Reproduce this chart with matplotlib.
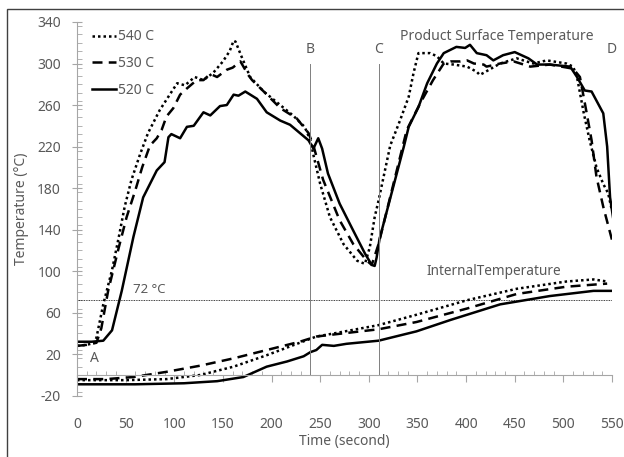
import matplotlib.pyplot as plt
from matplotlib.patches import Rectangle
from matplotlib.ticker import MultipleLocator

plt.rcParams['font.family'] = ['Noto Sans', 'DejaVu Sans']
plt.rcParams['axes.unicode_minus'] = False

# surface temperature, 540 C oven (dotted)
t_s540 = [0, 10, 18, 20, 27, 36, 43, 49, 56, 65, 73, 85, 96, 103, 111, 121, 130, 140, 150,
          157, 161, 163, 169, 178, 192, 205, 222, 234, 240, 243, 250, 260, 274, 288, 296,
          301, 306, 310, 322, 332, 341, 346, 351, 363, 370, 377, 387, 401, 411, 414, 418,
          435, 452, 469, 483, 503, 510, 514, 521, 527, 534, 541, 546, 550]
v_s540 = [28, 29, 31, 36, 68, 101, 133, 162, 188, 213, 233, 255, 271, 281, 279, 287, 284, 291, 302,
          312, 322, 321, 307, 287, 273, 263, 250, 239, 226, 212, 184, 152, 126, 110, 107,
          123, 152, 168, 221, 245, 268, 291, 310, 310, 307, 300, 299, 297, 292, 289, 291,
          300, 305, 300, 303, 300, 297, 287, 252, 226, 200, 184, 175, 158]

# surface temperature, 530 C oven (dashed)
t_s530 = [0, 10, 20, 25, 32, 43, 51, 60, 67, 75, 82, 87, 92, 99, 106, 113, 123, 130, 137,
          144, 154, 160, 168, 176, 180, 192, 209, 226, 238, 243, 253, 270, 284, 298, 303,
          310, 339, 353, 366, 377, 384, 394, 401, 408, 418, 421, 435, 449, 466, 486, 510,
          517, 524, 529, 534, 541, 550]
v_s530 = [28, 29, 31, 45, 81, 123, 152, 178, 200, 221, 228, 236, 249, 257, 270, 276, 284, 284, 290,
          287, 294, 296, 302, 289, 284, 273, 257, 247, 233, 221, 188, 149, 126, 110, 106,
          126, 236, 262, 284, 300, 302, 302, 303, 300, 299, 297, 300, 302, 297, 299, 295,
          287, 252, 226, 191, 162, 130]

# surface temperature, 520 C oven (solid)
t_s520 = [0, 15, 27, 36, 46, 58, 68, 82, 90, 94, 97, 106, 113, 120, 130, 137, 147, 154, 161,
          166, 173, 185, 195, 209, 219, 238, 243, 248, 252, 258, 270, 284, 296, 303, 306,
          308, 311, 336, 341, 351, 360, 370, 377, 390, 399, 404, 411, 421, 428, 438, 450,
          464, 473, 486, 507, 514, 522, 529, 541, 545, 548, 551]
v_s520 = [32, 32, 33, 43, 81, 133, 171, 197, 205, 229, 232, 228, 239, 240, 253, 250, 259, 260, 270,
          269, 273, 266, 253, 245, 241, 226, 218, 228, 218, 194, 165, 139, 117, 106, 105,
          113, 131, 220, 239, 258, 281, 300, 310, 316, 315, 318, 310, 308, 303, 308, 311,
          305, 299, 299, 297, 287, 274, 273, 252, 220, 171, 152]

# internal temperature
t_i540 = [0, 50, 92, 127, 161, 195, 229, 246, 264, 310, 349, 401, 452, 503, 531, 545]
v_i540 = [-5, -5, -4, 0, 8, 19, 31, 37, 40, 48, 58, 72, 83, 90, 92, 90]
t_i530 = [0, 30, 58, 92, 127, 161, 195, 229, 246, 264, 310, 349, 401, 452, 503, 545]
v_i530 = [-4, -4, -2, 3, 9, 16, 24, 32, 37, 39, 44, 51, 64, 78, 85, 88]
t_i520 = [0, 60, 110, 144, 171, 195, 216, 233, 240, 246, 252, 264, 277, 310, 349, 384, 435, 486,
          531, 551]
v_i520 = [-9, -9, -8, -6, -2, 8, 13, 18, 22, 24, 29, 28, 30, 33, 42, 53, 68, 76, 81, 81]

markers_t = [240, 310, 550]
markers_lbl = ['B', 'C', 'D']

gray = '#595959'
fig = plt.figure(figsize=(6.24, 4.57), dpi=100)
ax = fig.add_axes([0.1234, 0.1341, 0.8574, 0.8178])

lw = 1.8
ax.plot(t_s540, v_s540, color='black', lw=lw, ls=(0, (1, 1.2)), label='540 C')
ax.plot(t_s530, v_s530, color='black', lw=lw, ls=(0, (4, 2.5)), label='530 C')
ax.plot(t_s520, v_s520, color='black', lw=lw, ls='-', label='520 C')
ax.plot(t_i540, v_i540, color='black', lw=lw, ls=(0, (1, 1.2)))
ax.plot(t_i530, v_i530, color='black', lw=lw, ls=(0, (4, 2.5)))
ax.plot(t_i520, v_i520, color='black', lw=lw, ls='-')

ax.axhline(72, color='black', lw=0.6, ls=(0, (1, 1)))
for t, lbl in zip(markers_t, markers_lbl):
    ax.plot([t, t], [0, 300], color='#7f7f7f', lw=0.7)
    ax.text(t, 306, lbl, ha='center', va='bottom', color=gray, fontsize=10)

ax.text(58, 76, '72 °C', color=gray, fontsize=9.5, va='bottom')
ax.text(18, 16, 'A', color=gray, fontsize=10, ha='center', va='center')
ax.text(432, 326, 'Product Surface Temperature', color=gray, fontsize=10,
        ha='center', va='center')
ax.text(429, 100, 'InternalTemperature', color=gray, fontsize=9.8, ha='center', va='center')

ax.set_xlim(0, 550)
ax.set_ylim(-20, 340)
ax.set_yticks(range(-20, 341, 40))
ax.set_xticks(range(0, 551, 50))
ax.xaxis.set_minor_locator(MultipleLocator(10))
ax.yaxis.set_minor_locator(MultipleLocator(8))

for s in ['top', 'right']:
    ax.spines[s].set_visible(False)
ax.spines['bottom'].set_position(('data', 0))
ax.spines['bottom'].set_color('#a6a6a6')
ax.spines['left'].set_color('#a6a6a6')
ax.spines['bottom'].set_linewidth(0.8)
ax.spines['left'].set_linewidth(0.8)

ax.tick_params(axis='x', which='major', direction='out', length=5, color='#a6a6a6',
               labelsize=10, labelcolor=gray, pad=25.5)
ax.tick_params(axis='x', which='minor', direction='in', length=3, color='#a6a6a6')
ax.tick_params(axis='y', which='major', direction='inout', length=7, color='#a6a6a6',
               labelsize=10, labelcolor=gray, pad=8)
ax.tick_params(axis='y', which='minor', direction='in', length=3.5, color='#a6a6a6')

ax.set_xlabel('Time (second)', color=gray, fontsize=10, labelpad=1)
ax.set_ylabel('Temperature (°C)', color=gray, fontsize=10, labelpad=6)

leg = ax.legend(loc='upper left', bbox_to_anchor=(0.0176, 0.995), frameon=False, fontsize=10,
                handlelength=1.73, handletextpad=0.15, labelspacing=0.85, borderaxespad=0,
                borderpad=0.4)
for txt in leg.get_texts():
    txt.set_color(gray)

fig.patches.append(Rectangle((6.5 / 624, -0.1), 1.2, 1 - 9 / 457 + 0.1,
                             transform=fig.transFigure, fill=False, ec='#404040', lw=1))

fig.savefig('out.png', dpi=100)
